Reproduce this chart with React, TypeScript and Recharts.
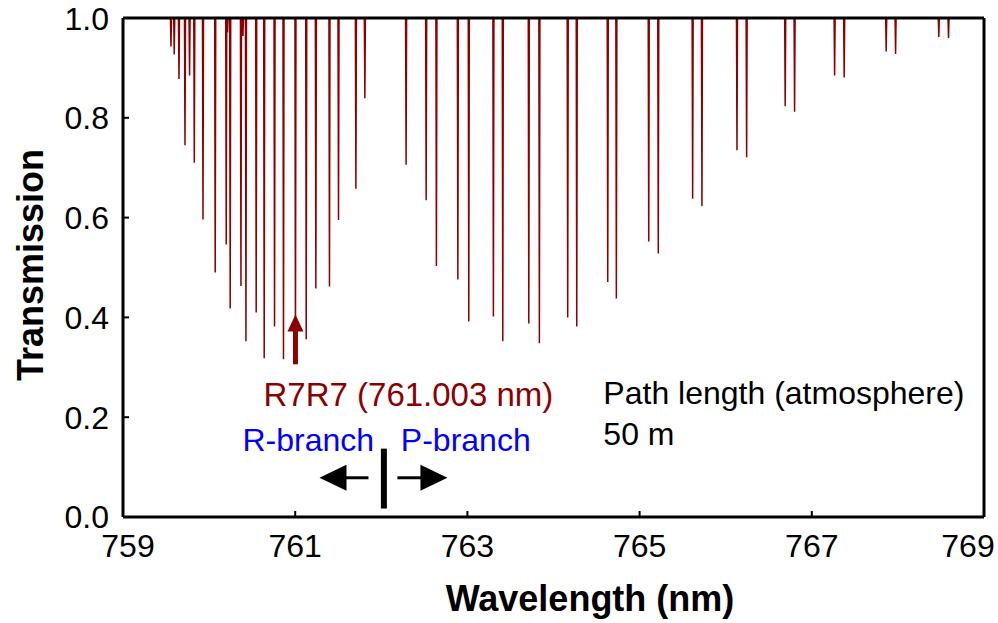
import { LineChart, Line, XAxis, YAxis, ReferenceLine, ReferenceDot, Label } from "recharts";

const spectrumStart = 759.18;
const spectrumEnd = 768.8;
const lineHalfWidth = 0.006;

//absorption line centres (nm) and the transmission at the bottom of each dip
const lineCenters = [
	759.557, 759.595, 759.65, 759.72, 759.773, 759.828, 759.929, 760.071, 760.199, 760.214,
	760.245, 760.37, 760.393, 760.428, 760.547, 760.64, 760.76, 760.864, 761.003, 761.128,
	761.24, 761.398, 761.503, 761.705, 761.809, 762.288, 762.521, 762.64, 762.889, 763.016,
	763.302, 763.411, 763.713, 763.836, 764.165, 764.27, 764.63, 764.73, 765.106, 765.217,
	765.616, 765.724, 766.131, 766.243, 766.691, 766.8, 767.265, 767.376, 767.864, 767.973,
	768.475, 768.588,
];
const lineMinima = [
	0.943, 0.927, 0.878, 0.745, 0.885, 0.71, 0.596, 0.49, 0.546, 0.971,
	0.418, 0.463, 0.964, 0.352, 0.41, 0.318, 0.382, 0.316, 0.33, 0.356,
	0.458, 0.462, 0.595, 0.658, 0.839, 0.706, 0.635, 0.503, 0.476, 0.392,
	0.402, 0.352, 0.388, 0.348, 0.4, 0.382, 0.471, 0.438, 0.552, 0.528,
	0.638, 0.623, 0.735, 0.721, 0.823, 0.812, 0.885, 0.881, 0.933, 0.928,
	0.962, 0.96,
];

const xTicks = [759, 761, 763, 765, 767, 769];
const yTicks = [0, 0.2, 0.4, 0.6, 0.8, 1.0];

const font = "'Liberation Sans', Arial, sans-serif";
const dark = "#8B0000";

// triangle head drawn at the tip point, pointing "up", "left" or "right"
const headShape = (color: string, dir: string, len: number, half: number) => (props: any) => {
	const { cx, cy } = props;
	let pts = "";
	if (dir === "up") pts = `${cx},${cy} ${cx - half},${cy + len} ${cx + half},${cy + len}`;
	if (dir === "left") pts = `${cx},${cy} ${cx + len},${cy - half} ${cx + len},${cy + half}`;
	if (dir === "right") pts = `${cx},${cy} ${cx - len},${cy - half} ${cx - len},${cy + half}`;
	return <polygon points={pts} fill={color} />;
};

const textShape = (text: string, color: string, size = 32) => (props: any) => (
	<text x={props.cx} y={props.cy} fill={color} fontFamily={font} fontSize={size}>
		{text}
	</text>
);

const XTick = (props: any) => {
	const v = props.payload.value;
	const shift = v === 759 ? 5 : v === 769 ? -16 : 0;
	return (
		<text x={props.x + shift} y={props.y} dy="0.71em" textAnchor="middle" fill="#000" fontFamily={font} fontSize={32}>
			{v}
		</text>
	);
};

export default function App() {
	const data: { x: number; t: number }[] = [{ x: spectrumStart, t: 1 }];
	for (let i = 0; i < lineCenters.length; i++) {
		data.push({ x: lineCenters[i] - lineHalfWidth, t: 1 });
		data.push({ x: lineCenters[i], t: lineMinima[i] });
		data.push({ x: lineCenters[i] + lineHalfWidth, t: 1 });
	}
	data.push({ x: spectrumEnd, t: 1 });

	return (
		<div style={{ position: "absolute", left: 0, top: 0 }}>
			<LineChart width={998} height={623} data={data} margin={{ top: 17, right: 13, bottom: 0, left: 0 }}>
				<XAxis
					dataKey="x"
					type="number"
					domain={[759, 769]}
					ticks={xTicks}
					height={106}
					axisLine={{ stroke: "#000", strokeWidth: 3 }}
					tickLine={{ stroke: "#000", strokeWidth: 2 }}
					tickSize={-6}
					tickMargin={23}
					tick={<XTick />}
					allowDataOverflow
				>
					<Label
						content={() => (
							<text x={590} y={611} textAnchor="middle" fontFamily={font} fontSize={36} fontWeight="bold" fill="#000">
								Wavelength (nm)
							</text>
						)}
					/>
				</XAxis>
				<XAxis
					xAxisId="top"
					orientation="top"
					type="number"
					domain={[759, 769]}
					height={1}
					tick={false}
					tickLine={false}
					axisLine={{ stroke: "#000", strokeWidth: 3 }}
				/>
				<YAxis
					type="number"
					domain={[0, 1]}
					ticks={yTicks}
					width={123}
					axisLine={{ stroke: "#000", strokeWidth: 3 }}
					tickLine={{ stroke: "#000", strokeWidth: 2 }}
					tickSize={-6}
					tickMargin={20}
					tickFormatter={(v: number) => v.toFixed(1)}
					tick={{ fill: "#000", fontFamily: font, fontSize: 32 }}
					allowDataOverflow
				>
					<Label
						content={() => (
							<text
								transform="translate(43,265) rotate(-90)"
								textAnchor="middle"
								fontFamily={font}
								fontSize={36}
								fontWeight="bold"
								fill="#000"
							>
								Transmission
							</text>
						)}
					/>
				</YAxis>
				<YAxis
					yAxisId="right"
					orientation="right"
					type="number"
					domain={[0, 1]}
					width={1}
					tick={false}
					tickLine={false}
					axisLine={{ stroke: "#000", strokeWidth: 3 }}
				/>
				<Line
					type="linear"
					dataKey="t"
					stroke={dark}
					strokeWidth={1.5}
					dot={false}
					activeDot={false}
					isAnimationActive={false}
				/>
				<ReferenceLine segment={[{ x: 761.003, y: 0.306 }, { x: 761.003, y: 0.38 }]} stroke={dark} strokeWidth={5} />
				<ReferenceDot x={761.003} y={0.406} shape={headShape(dark, "up", 17, 8)} />
				<ReferenceLine segment={[{ x: 761.851, y: 0.0786 }, { x: 761.58, y: 0.0786 }]} stroke="#000" strokeWidth={3} />
				<ReferenceDot x={761.282} y={0.0786} shape={headShape("#000", "left", 27, 13)} />
				<ReferenceLine segment={[{ x: 762.187, y: 0.0786 }, { x: 762.47, y: 0.0786 }]} stroke="#000" strokeWidth={3} />
				<ReferenceDot x={762.768} y={0.0786} shape={headShape("#000", "right", 27, 13)} />
				<ReferenceLine segment={[{ x: 762.03, y: 0.137 }, { x: 762.03, y: 0.017 }]} stroke="#000" strokeWidth={6} />
				<ReferenceDot x={760.632} y={0.222} shape={textShape("R7R7 (761.003 nm)", dark, 33)} />
				<ReferenceDot x={764.579} y={0.2255} shape={textShape("Path length (atmosphere)", "#000")} />
				<ReferenceDot x={764.579} y={0.145} shape={textShape("50 m", "#000")} />
				<ReferenceDot x={760.388} y={0.132} shape={textShape("R-branch", "#0000FF")} />
				<ReferenceDot x={762.227} y={0.132} shape={textShape("P-branch", "#0000FF")} />
			</LineChart>
		</div>
	);
}
